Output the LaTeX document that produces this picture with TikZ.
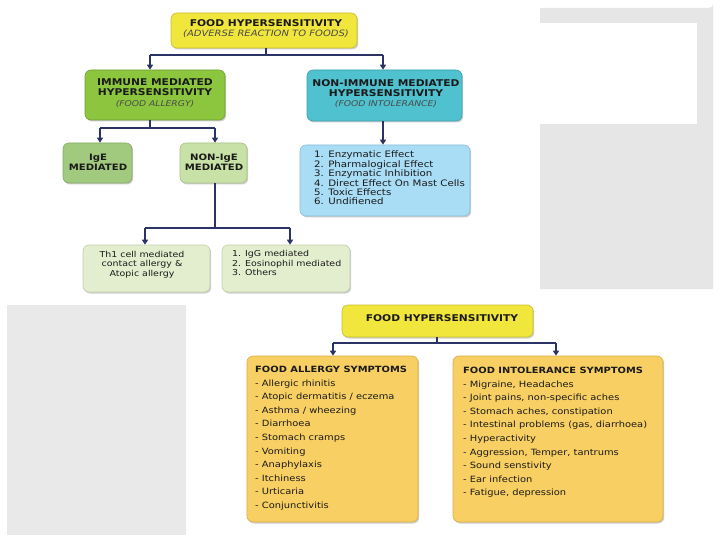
\documentclass[tikz,border=0pt]{standalone}
\usepackage{fontspec}
\setmainfont{DejaVu Sans}[FakeStretch=1.15]
\usetikzlibrary{arrows.meta,shadows,calc}
\definecolor{panel}{HTML}{E6E6E6}
\definecolor{yelF}{HTML}{F0E63C}\definecolor{yelD}{HTML}{C9BE2C}
\definecolor{grnF}{HTML}{8CC63F}\definecolor{grnD}{HTML}{6E9E30}
\definecolor{tealF}{HTML}{4FC1CF}\definecolor{tealD}{HTML}{3A9FAC}
\definecolor{igeF}{HTML}{A2CA7E}\definecolor{igeD}{HTML}{82A862}
\definecolor{nigeF}{HTML}{C8E1A6}\definecolor{nigeD}{HTML}{A6C086}
\definecolor{bluF}{HTML}{A9DCF5}\definecolor{bluD}{HTML}{88BDD8}
\definecolor{palF}{HTML}{E3EECF}\definecolor{palD}{HTML}{C0CEA8}
\definecolor{gldF}{HTML}{F8CF62}\definecolor{gldD}{HTML}{D6AD45}
\definecolor{arrc}{HTML}{2B3265}
\definecolor{txtc}{HTML}{1A1A1A}
\definecolor{subc}{HTML}{4A4A4A}
\begin{document}
\begin{tikzpicture}[x=1pt,y=-1pt,
  box/.style={rounded corners=6pt, line width=0.6pt, inner sep=0pt,
    drop shadow={shadow xshift=1.2pt,shadow yshift=-1.5pt,opacity=0.35,fill=black!55}},
  txt/.style={inner sep=0pt, text=txtc, align=center},
  ltxt/.style={inner sep=0pt, text=txtc, align=left, anchor=north west},
  hd/.style={font=\fontsize{9.3}{10.3}\selectfont},
  conn/.style={draw=arrc, line width=1.3pt},
  arr/.style={conn, -{Triangle[length=5pt,width=6pt]}}]
\useasboundingbox (0,0) rectangle (720,540);
% background panels
\fill[panel] (540,8) -- (709,8) arc[start angle=90,end angle=0,radius=4] -- (713,289) -- (540,289) -- cycle;
\fill[white] (540,23) rectangle (697,124);
\fill[panel!90!white] (7,305) rectangle (186,535);

% ===== upper diagram =====
\node[box, fill=yelF, draw=yelD, minimum width=186pt, minimum height=35pt] (top) at (264,30.5) {};
\node[txt, hd] (topt) at (266,28.5) {\bfseries FOOD HYPERSENSITIVITY\\[-0.5pt]{\fontsize{8.7}{10}\selectfont\itshape\color{subc}(ADVERSE REACTION TO FOODS)}};

\node[box, fill=grnF, draw=grnD, minimum width=140pt, minimum height=50pt] (imm) at (155,95) {};
\node[txt, hd] (immt) at (155,93) {\bfseries IMMUNE MEDIATED\\\bfseries HYPERSENSITIVITY\\{\fontsize{8}{10}\selectfont\itshape\color{subc}(FOOD ALLERGY)}};

\node[box, fill=tealF, draw=tealD, minimum width=155pt, minimum height=51pt] (non) at (384.5,95.5) {};
\node[txt, hd] (nont) at (386,93.5) {\bfseries NON-IMMUNE MEDIATED\\\bfseries HYPERSENSITIVITY\\{\fontsize{8}{10}\selectfont\itshape\color{subc}(FOOD INTOLERANCE)}};

\node[box, fill=igeF, draw=igeD, minimum width=69pt, minimum height=40pt] (ige) at (97.5,163) {};
\node[txt, font=\fontsize{8.8}{10}\selectfont\bfseries] (iget) at (98,162) {IgE\\MEDIATED};

\node[box, fill=nigeF, draw=nigeD, minimum width=67pt, minimum height=40pt] (nige) at (213.5,163) {};
\node[txt, font=\fontsize{8.8}{10}\selectfont\bfseries] (niget) at (214,162) {NON-IgE\\MEDIATED};

\node[box, fill=bluF, draw=bluD, minimum width=170pt, minimum height=71pt] (lst) at (385,180.5) {};
\node[ltxt, font=\fontsize{8.9}{9.4}\selectfont] (lstt) at (314,151) {1. Enzymatic Effect\\2. Pharmalogical Effect\\3. Enzymatic Inhibition\\4. Direct Effect On Mast Cells\\5. Toxic Effects\\6. Undifiened};

\node[box, fill=palF, draw=palD, minimum width=127pt, minimum height=47pt] (th1) at (146.5,268.5) {};
\node[txt, font=\fontsize{8.2}{9.3}\selectfont] (th1t) at (142,264.5) {Th1 cell mediated\\contact allergy \&\\Atopic allergy};

\node[box, fill=palF, draw=palD, minimum width=128pt, minimum height=47pt] (igg) at (286,268.5) {};
\node[ltxt, font=\fontsize{8.2}{9.3}\selectfont] (iggt) at (232,250.5) {1. IgG mediated\\2. Eosinophil mediated\\3. Others};

% connectors upper
\draw[conn] (top.south -| 266,0) -- (266,55);
\draw[conn] (150,55) -- (383,55);
\draw[arr] (150,55) -- (imm.north -| 150,0);
\draw[arr] (383,55) -- (non.north -| 383,0);
\draw[conn] (imm.south -| 150,0) -- (150,128);
\draw[conn] (100,128) -- (215,128);
\draw[arr] (100,128) -- (ige.north -| 100,0);
\draw[arr] (215,128) -- (nige.north -| 215,0);
\draw[arr] (non.south -| 383,0) -- (lst.north -| 383,0);
\draw[conn] (nige.south -| 215,0) -- (215,228);
\draw[conn] (145,228) -- (290,228);
\draw[arr] (145,228) -- (th1.north -| 145,0);
\draw[arr] (290,228) -- (igg.north -| 290,0);

% ===== lower diagram =====
\node[box, fill=yelF, draw=yelD, minimum width=191pt, minimum height=32pt] (top2) at (437.5,321) {};
\node[txt, hd] (top2t) at (442,318.5) {\bfseries FOOD HYPERSENSITIVITY};

\node[box, fill=gldF, draw=gldD, minimum width=171pt, minimum height=166pt] (alg) at (332.5,439) {};
\node[ltxt, font=\fontsize{8.6}{13.6}\selectfont] (algt) at (255,366) {\textbf{FOOD ALLERGY SYMPTOMS}\\- Allergic rhinitis\\- Atopic dermatitis / eczema\\- Asthma / wheezing\\- Diarrhoea\\- Stomach cramps\\- Vomiting\\- Anaphylaxis\\- Itchiness\\- Urticaria\\- Conjunctivitis};

\node[box, fill=gldF, draw=gldD, minimum width=210pt, minimum height=166pt] (int) at (558,439) {};
\node[ltxt, font=\fontsize{8.6}{13.6}\selectfont] (intt) at (463,367) {\textbf{FOOD INTOLERANCE SYMPTOMS}\\- Migraine, Headaches\\- Joint pains, non-specific aches\\- Stomach aches, constipation\\- Intestinal problems (gas, diarrhoea)\\- Hyperactivity\\- Aggression, Temper, tantrums\\- Sound senstivity\\- Ear infection\\- Fatigue, depression};

\draw[conn] (top2.south -| 437,0) -- (437,343);
\draw[conn] (333,343) -- (556,343);
\draw[arr] (333,343) -- (alg.north -| 333,0);
\draw[arr] (556,343) -- (int.north -| 556,0);
\end{tikzpicture}
\end{document}
